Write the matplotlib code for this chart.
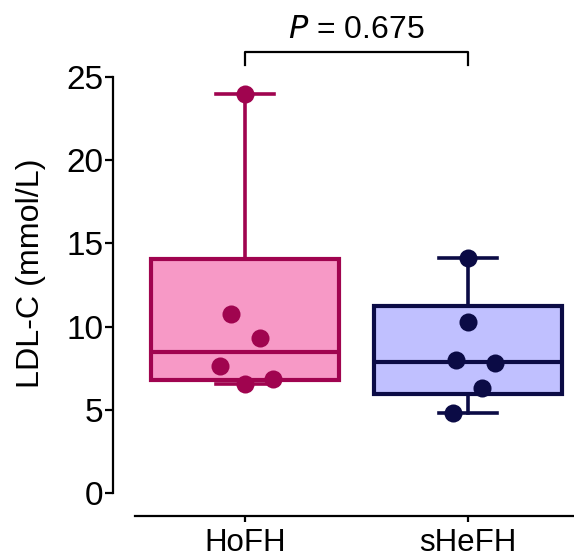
import numpy as np
import matplotlib
matplotlib.use("Agg")
import matplotlib.pyplot as plt

plt.rcParams['font.family'] = ['Liberation Sans', 'DejaVu Sans']

categories = ["HoFH", "sHeFH"]
hofh_values = [24.0, 10.76, 9.31, 7.63, 6.55, 6.85]
hofh_offsets = [0.0, -0.063, 0.067, -0.112, 0.0, 0.126]
shefh_values = [14.12, 10.28, 7.99, 7.81, 6.31, 4.81]
shefh_offsets = [0.0, 0.0, -0.054, 0.121, 0.063, -0.067]
p_text = "0.675"
y_ticks = [0, 5, 10, 15, 20, 25]

face_colors = ["#F799C6", "#C0C0FF"]
edge_colors = ["#A0044F", "#0B0B45"]

W, H = 574, 557
fig = plt.figure(figsize=(W / 100, H / 100), dpi=100)
ax = fig.add_axes([113 / W, (H - 493) / H, (574 - 113) / W, 416 / H])

def stats(vals, label):
    v = np.array(vals)
    q1, med, q3 = np.percentile(v, [25, 50, 75], method='weibull')
    return dict(med=med, q1=q1, q3=q3, whislo=v.min(), whishi=v.max(),
                fliers=[], label=label)

data = [hofh_values, shefh_values]
offsets = [hofh_offsets, shefh_offsets]
for i, (vals, offs) in enumerate(zip(data, offsets)):
    pos = i + 1
    st = stats(vals, categories[i])
    ax.bxp([st], positions=[pos], widths=0.84, patch_artist=True,
           showfliers=False,
           boxprops=dict(facecolor=face_colors[i], edgecolor=edge_colors[i], linewidth=3.0),
           medianprops=dict(color=edge_colors[i], linewidth=3.0),
           whiskerprops=dict(color=edge_colors[i], linewidth=2.6),
           capprops=dict(color=edge_colors[i], linewidth=2.6),
           capwidths=0.26, manage_ticks=False, zorder=2)
    ax.plot([pos + o for o in offs], vals, 'o', color=edge_colors[i],
            markersize=13, markeredgewidth=0, zorder=3, clip_on=False)

ax.set_xlim(0.408, 2.475)
ax.set_ylim(0, 25)
ax.set_yticks(y_ticks)
ax.set_xticks([1, 2])
ax.set_xticklabels(categories)

for s in ['top', 'right']:
    ax.spines[s].set_visible(False)
ax.spines['left'].set_linewidth(1.6)
ax.spines['bottom'].set_linewidth(1.6)
ax.spines['bottom'].set_position(('outward', 16.5))
ax.spines['bottom'].set_bounds(0.507, 2.475)

ax.tick_params(axis='y', length=6, width=1.6, labelsize=24, pad=1)
ax.tick_params(axis='x', length=4, width=1.6, labelsize=22.5, pad=5)
ax.set_ylabel("LDL-C (mmol/L)", fontsize=23.2, va='center')
ax.yaxis.set_label_coords(-0.178, 0.529)

# significance bracket
y_top = 25 + (77 - 52) / 16.64
y_low = 25 + (77 - 65) / 16.64
ax.plot([1, 1, 2, 2], [y_low, y_top, y_top, y_low], color='black',
        linewidth=1.6, clip_on=False)
ax.text(1.5, y_top + 0.45, r"$\it{P}$ = " + p_text, ha='center', va='bottom',
        fontsize=23)

fig.savefig("out.png", dpi=100)
